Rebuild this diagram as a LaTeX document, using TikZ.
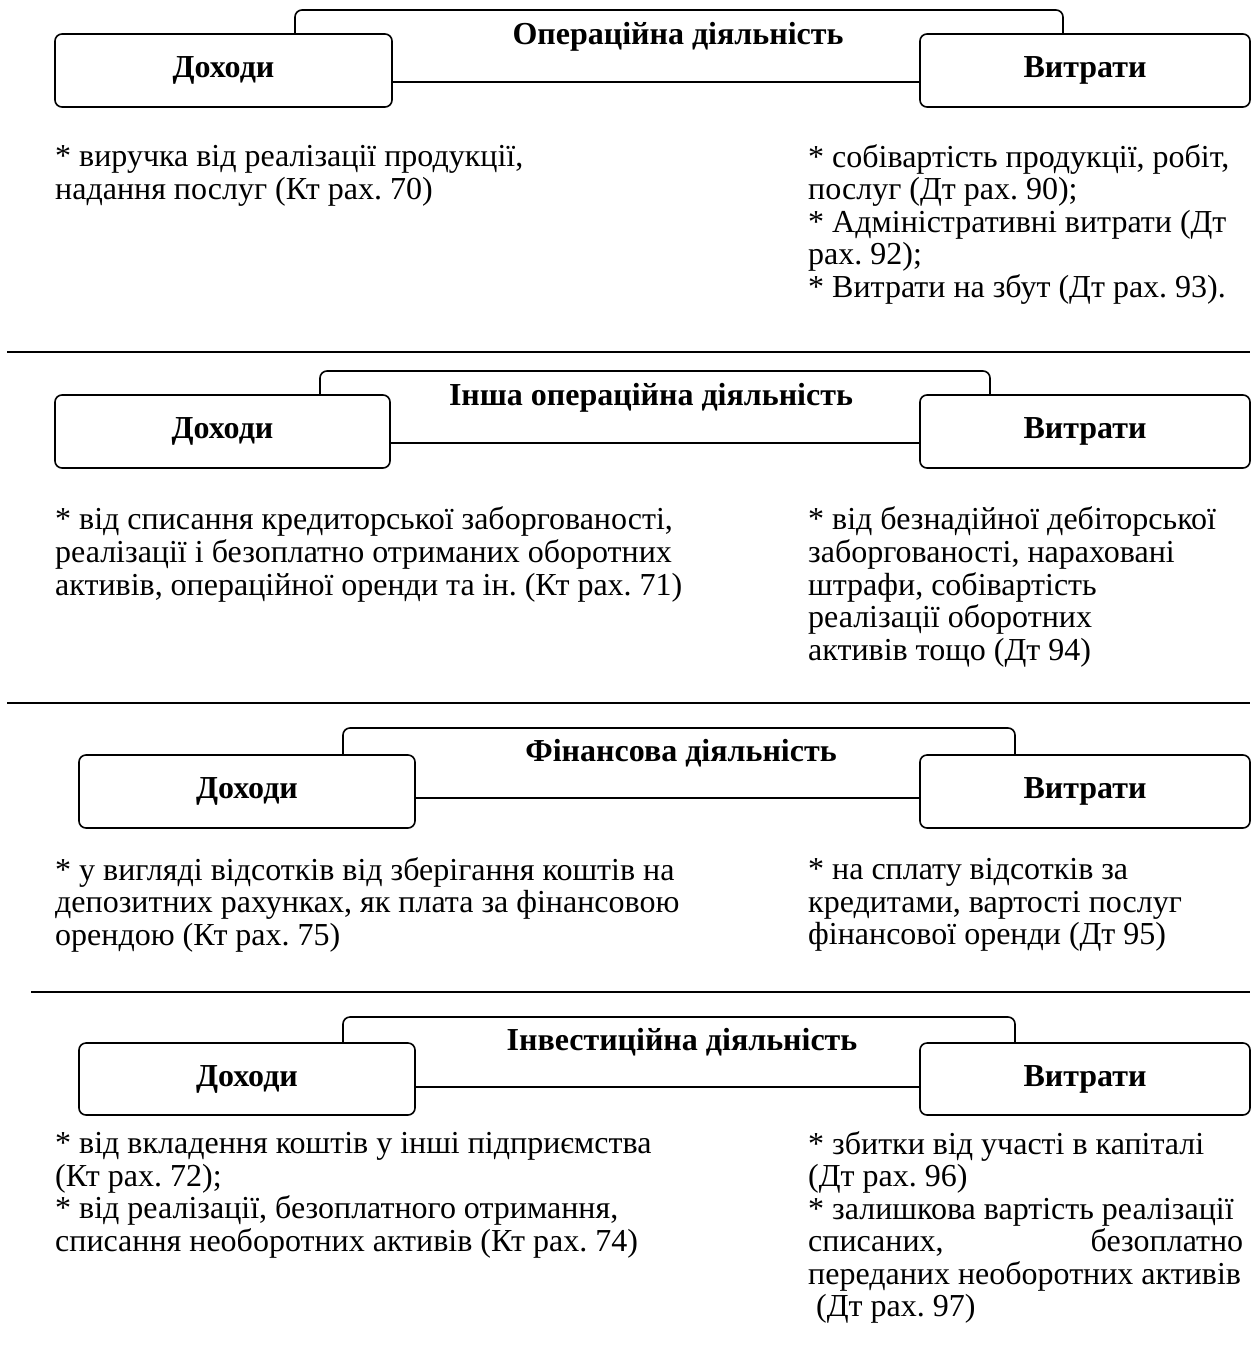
\documentclass[tikz,border=0pt]{standalone}
\usepackage{fontspec}
\setmainfont{Liberation Serif}
\frenchspacing
\newcommand{\jline}[1]{\makebox[435pt][s]{#1}}
\begin{document}
\begin{tikzpicture}[x=1pt,y=-1pt,
  box/.style={draw, line width=1.6pt, rounded corners=7pt, fill=white, inner sep=0pt},
  lbl/.style={font=\bfseries\fontsize{32}{34}\selectfont},
  ttl/.style={font=\bfseries\fontsize{32}{34}\selectfont},
  body/.style={anchor=north west, inner sep=0pt, align=flush left, font=\fontsize{32}{32.5}\selectfont},
  sepline/.style={line width=1.6pt}]
\useasboundingbox (0,0) rectangle (1251,1345);

% ---------- Section 1 ----------
\node[box, minimum width=768pt, minimum height=72pt] (t1) at (679,46) {};
\node[ttl] (t1l) at (678,37) {Операційна діяльність};
\node[box, lbl, minimum width=337pt, minimum height=73pt] (d1) at (223.5,70.5) {Доходи};
\node[box, lbl, minimum width=330pt, minimum height=73pt] (v1) at (1085,70.5) {Витрати};
\node[body] (d1t) at (55,144) {\strut* виручка від реалізації продукції,\\надання послуг (Кт рах. 70)};
\node[body] (v1t) at (808,144) {\strut* собівартість продукції, робіт,\\послуг (Дт рах. 90);\\\relax* Адміністративні витрати (Дт\\рах. 92);\\\relax* Витрати на збут (Дт рах. 93).};
\coordinate (s1a) at (7,352); \coordinate (s1b) at (1250,352);
\draw[sepline] (s1a) -- (s1b);

% ---------- Section 2 ----------
\node[box, minimum width=670pt, minimum height=72pt] (t2) at (655,407) {};
\node[ttl] (t2l) at (651,398) {Інша операційна діяльність};
\node[box, lbl, minimum width=335pt, minimum height=73pt] (d2) at (222.5,431.5) {Доходи};
\node[box, lbl, minimum width=330pt, minimum height=73pt] (v2) at (1085,431.5) {Витрати};
\node[body] (d2t) at (55,506) {\strut* від списання кредиторської заборгованості,\\реалізації і безоплатно отриманих оборотних\\активів, операційної оренди та ін. (Кт рах. 71)};
\node[body] (v2t) at (808,506) {\strut* від безнадійної дебіторської\\заборгованості, нараховані\\штрафи, собівартість\\реалізації оборотних\\активів тощо (Дт 94)};
\coordinate (s2a) at (7,703); \coordinate (s2b) at (1250,703);
\draw[sepline] (s2a) -- (s2b);

% ---------- Section 3 ----------
\node[box, minimum width=672pt, minimum height=70pt] (t3) at (679,763) {};
\node[ttl] (t3l) at (681,753) {Фінансова діяльність};
\node[box, lbl, minimum width=336pt, minimum height=73pt] (d3) at (247,791.5) {Доходи};
\node[box, lbl, minimum width=330pt, minimum height=73pt] (v3) at (1085,791.5) {Витрати};
\node[body] (d3t) at (55,857) {\strut* у вигляді відсотків від зберігання коштів на\\депозитних рахунках, як плата за фінансовою\\орендою (Кт рах. 75)};
\node[body] (v3t) at (808,857) {\strut* на сплату відсотків за\\кредитами, вартості послуг\\фінансової оренди (Дт 95)};
\coordinate (s3a) at (31,992); \coordinate (s3b) at (1250,992);
\draw[sepline] (s3a) -- (s3b);

% ---------- Section 4 ----------
\node[box, minimum width=672pt, minimum height=70pt] (t4) at (679,1052) {};
\node[ttl] (t4l) at (682,1042) {Інвестиційна діяльність};
\node[box, lbl, minimum width=336pt, minimum height=72pt] (d4) at (247,1079) {Доходи};
\node[box, lbl, minimum width=330pt, minimum height=72pt] (v4) at (1085,1079) {Витрати};
\node[body] (d4t) at (55,1131) {\strut* від вкладення коштів у інші підприємства\\(Кт рах. 72);\\\relax* від реалізації, безоплатного отримання,\\списання необоротних активів (Кт рах. 74)};
\node[body] (v4t) at (808,1131) {\strut* збитки від участі в капіталі\\(Дт рах. 96)\\\relax* залишкова вартість реалізації\\\jline{списаних,\hfill безоплатно}\\переданих необоротних активів\\\hspace*{8pt}(Дт рах. 97)};
\end{tikzpicture}
\end{document}
